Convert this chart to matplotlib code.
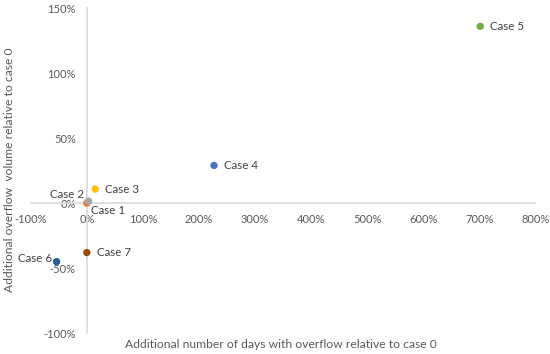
import matplotlib.pyplot as plt
from matplotlib.ticker import FuncFormatter

plt.rcParams['font.family'] = ['Lato', 'DejaVu Sans']

# values (percent)
cases = ['Case 1', 'Case 2', 'Case 3', 'Case 4', 'Case 5', 'Case 6', 'Case 7']
days_pct = [0, 3, 15, 227, 702, -54, 0]
volume_pct = [0, 1.5, 10.8, 29, 136, -45, -38]
colors = ['#ED7D31', '#A5A5A5', '#FFC000', '#4472C4', '#70AD47', '#255E91', '#9E480E']
# where each label sits relative to its dot (points), and alignment
offsets = {
    'Case 1': (3, -5, 'left'),
    'Case 2': (-3, 5, 'right'),
    'Case 3': (7, 0, 'left'),
    'Case 4': (7, 0, 'left'),
    'Case 5': (7, 0, 'left'),
    'Case 6': (-3, 2, 'right'),
    'Case 7': (7, 0, 'left'),
}

fig = plt.figure(figsize=(5.5, 3.54), dpi=100)
ax = fig.add_axes([0.056, 0.059, 0.917, 0.918])

ax.scatter(days_pct, volume_pct, c=colors, s=28, zorder=3, linewidths=0)
for name, x, y in zip(cases, days_pct, volume_pct):
    dx, dy, ha = offsets[name]
    ax.annotate(name, (x, y), xytext=(dx, dy), textcoords='offset points',
                ha=ha, va='center', fontsize=8.3, color='#404040')

ax.set_xlim(-100, 800)
ax.set_ylim(-100, 150)
ax.set_xticks(range(-100, 801, 100))
ax.set_yticks(range(-100, 151, 50))
pct = FuncFormatter(lambda v, p: '%d%%' % v)
ax.xaxis.set_major_formatter(pct)
ax.yaxis.set_major_formatter(pct)

for side in ['top', 'right']:
    ax.spines[side].set_visible(False)
ax.spines['left'].set_position(('data', 0))
ax.spines['bottom'].set_position(('data', 0))
for side in ['left', 'bottom']:
    ax.spines[side].set_color('#d9d9d9')
    ax.spines[side].set_linewidth(1.2)
ax.tick_params(length=0, labelsize=8, labelcolor='#595959', pad=8)

fig.text(0.51, 0.028, 'Additional number of days with overflow relative to case 0',
         ha='center', va='center', fontsize=8.7, color='#595959')
fig.text(0.018, 0.52, 'Additional overflow  volume relative to case 0',
         ha='center', va='center', rotation=90, fontsize=8.7, color='#595959')

fig.savefig('out.png', dpi=100)
